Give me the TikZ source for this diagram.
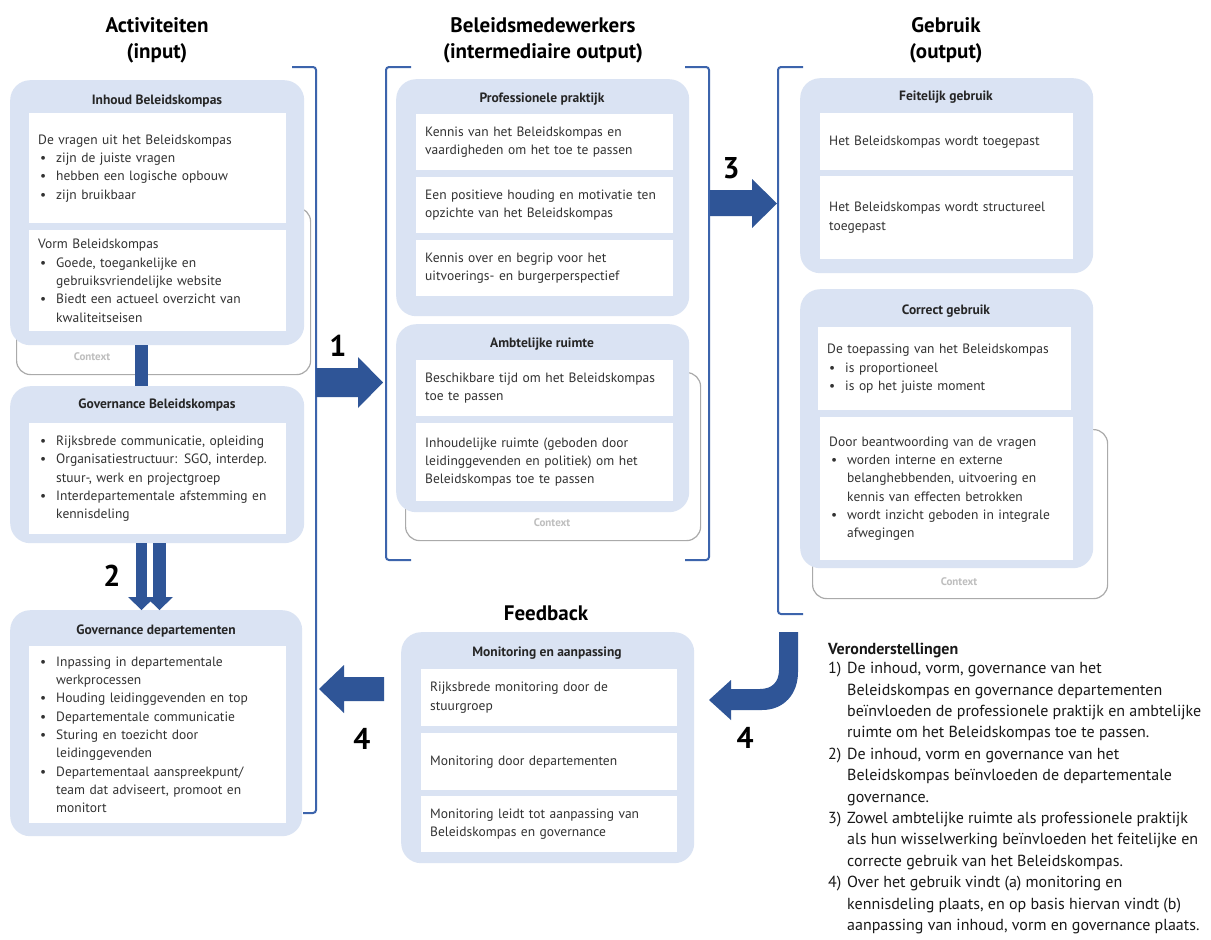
\documentclass[tikz,border=0pt]{standalone}
\usepackage{fontspec}
\setmainfont{PT Sans}
\definecolor{arrowblue}{RGB}{47,85,151}
\definecolor{brblue}{RGB}{60,100,172}
\definecolor{boxblue}{RGB}{218,227,243}
\definecolor{ctxgray}{RGB}{170,170,170}
\definecolor{ctxtext}{RGB}{190,190,190}
\definecolor{txt}{RGB}{50,50,50}
\newcommand{\bitem}{\makebox[18pt][l]{\hspace{2pt}\textbullet}}
\newcommand{\bcont}{\hspace*{18pt}}
\tikzset{
 outerbox/.style={fill=boxblue, rounded corners=20pt, inner sep=0pt, anchor=north west},
 wbox/.style={fill=white, inner xsep=9pt, inner ysep=0pt, anchor=north west, align=left,
   font=\fontsize{13.5}{18.3}\selectfont, text=txt},
 ctxbox/.style={draw=ctxgray, line width=1.2pt, fill=white, rounded corners=14pt, inner sep=0pt, anchor=north west},
 ctxlabel/.style={font=\bfseries\fontsize{11}{13}\selectfont, text=ctxtext},
 boxtitle/.style={font=\bfseries\fontsize{13.5}{16}\selectfont, text=black!85},
 heading/.style={font=\bfseries\fontsize{21}{26}\selectfont, align=center},
 numlabel/.style={font=\bfseries\fontsize{30}{34}\selectfont},
 bracket/.style={draw=brblue, line width=2pt, rounded corners=3pt},
 fatarrow/.style={fill=arrowblue, draw=none},
}
\begin{document}
\begin{tikzpicture}[x=1pt,y=-1pt]
\useasboundingbox[fill=white] (0,0) rectangle (1211,940);

% headings
\node[heading] (h1) at (157,40) {Activiteiten\\(input)};
\node[heading] (h2) at (543,40) {Beleidsmedewerkers\\(intermediaire output)};
\node[heading] (h3) at (946,40) {Gebruik\\(output)};
\node[heading] (h4) at (546,613) {Feedback};

% context boxes
\node[ctxbox, minimum width=294, minimum height=167] (ctx1) at (16,207) {};
\node[ctxlabel] (ctx1t) at (92,357) {Context};
\node[ctxbox, minimum width=295, minimum height=168] (ctx2) at (405,372) {};
\node[ctxlabel] (ctx2t) at (552,523) {Context};
\node[ctxbox, minimum width=295, minimum height=169] (ctx3) at (812,429) {};
\node[ctxlabel] (ctx3t) at (959,582) {Context};

% ---------- left column
\node[outerbox, minimum width=294, minimum height=265] (inhoud) at (10,80) {};
\node[boxtitle] (inhoudT) at (157,101) {Inhoud Beleidskompas};
\node[wbox, text width=239, minimum height=110] (inh1) at (29,113)
 {De vragen uit het Beleidskompas\\ \bitem zijn de juiste vragen\\ \bitem hebben een logische opbouw\\ \bitem zijn bruikbaar};
\node[wbox, text width=239, minimum height=101] (inh2) at (29,230)
 {Vorm Beleidskompas\\ \bitem Goede, toegankelijke en\\ \bcont gebruiksvriendelijke website\\ \bitem Biedt een actueel overzicht van\\ \bcont kwaliteitseisen};

\node[outerbox, minimum width=294, minimum height=157] (govb) at (10,386) {};
\node[boxtitle] (govbT) at (157,405) {Governance Beleidskompas};
\node[wbox, text width=239, minimum height=111] (govb1) at (29,423)
 {\bitem Rijksbrede communicatie, opleiding\\ \bitem Organisatiestructuur: SGO, interdep.\\ \bcont stuur-, werk en projectgroep\\ \bitem Interdepartementale afstemming en\\ \bcont kennisdeling};

\node[outerbox, minimum width=292, minimum height=226] (govd) at (10,610) {};
\node[boxtitle] (govdT) at (156,631) {Governance departementen};
\node[wbox, text width=239, minimum height=177] (govd1) at (29,646)
 {\bitem Inpassing in departementale\\ \bcont werkprocessen\\ \bitem Houding leidinggevenden en top\\ \bitem Departementale communicatie\\ \bitem Sturing en toezicht door\\ \bcont leidinggevenden\\ \bitem Departementaal aanspreekpunt/\\ \bcont team dat adviseert, promoot en\\ \bcont monitort};

% ---------- middle column
\node[outerbox, minimum width=293, minimum height=237] (prof) at (396,79) {};
\node[boxtitle] (profT) at (542,99) {Professionele praktijk};
\node[wbox, text width=239, minimum height=56] (prof1) at (416,114)
 {Kennis van het Beleidskompas en\\vaardigheden om het toe te passen};
\node[wbox, text width=239, minimum height=56] (prof2) at (416,177)
 {Een positieve houding en motivatie ten\\opzichte van het Beleidskompas};
\node[wbox, text width=239, minimum height=56] (prof3) at (416,240)
 {Kennis over en begrip voor het\\uitvoerings- en burgerperspectief};

\node[outerbox, minimum width=293, minimum height=188] (amb) at (396,324) {};
\node[boxtitle] (ambT) at (542,344) {Ambtelijke ruimte};
\node[wbox, text width=239, minimum height=56] (amb1) at (416,360)
 {Beschikbare tijd om het Beleidskompas\\toe te passen};
\node[wbox, text width=239, minimum height=78] (amb2) at (416,423)
 {Inhoudelijke ruimte (geboden door\\leidinggevenden en politiek) om het\\Beleidskompas toe te passen};

% ---------- right column
\node[outerbox, minimum width=293, minimum height=195] (feit) at (800,78) {};
\node[boxtitle] (feitT) at (946,97) {Feitelijk gebruik};
\node[wbox, text width=235, minimum height=57] (feit1) at (820,113)
 {Het Beleidskompas wordt toegepast};
\node[wbox, text width=235, minimum height=83] (feit2) at (820,176)
 {Het Beleidskompas wordt structureel\\toegepast};

\node[outerbox, minimum width=293, minimum height=279] (corr) at (800,289) {};
\node[boxtitle] (corrT) at (946,311) {Correct gebruik};
\node[wbox, text width=235, minimum height=83] (corr1) at (818,327)
 {De toepassing van het Beleidskompas\\ \bitem is proportioneel\\ \bitem is op het juiste moment};
\node[wbox, text width=235, minimum height=143] (corr2) at (820,417)
 {Door beantwoording van de vragen\\ \bitem worden interne en externe\\ \bcont belanghebbenden, uitvoering en\\ \bcont kennis van effecten betrokken\\ \bitem wordt inzicht geboden in integrale\\ \bcont afwegingen};

% ---------- feedback
\node[outerbox, minimum width=293, minimum height=231] (mon) at (401,632) {};
\node[boxtitle] (monT) at (547,653) {Monitoring en aanpassing};
\node[wbox, text width=238, minimum height=57] (mon1) at (421,669)
 {Rijksbrede monitoring door de\\stuurgroep};
\node[wbox, text width=238, minimum height=57] (mon2) at (421,733)
 {Monitoring door departementen};
\node[wbox, text width=238, minimum height=56] (mon3) at (421,796)
 {Monitoring leidt tot aanpassing van\\Beleidskompas en governance};

% ---------- brackets
\draw[bracket] (292,67) -- (316,67) -- (316,813) -- (303,813);
\draw[bracket] (411,67) -- (386,67) -- (386,560) -- (411,560);
\draw[bracket] (685,67) -- (709,67) -- (709,560) -- (685,560);
\draw[bracket] (803,67) -- (778,67) -- (778,614) -- (803,614);

% ---------- arrows
% connector between Inhoud and Governance Beleidskompas
\fill[fatarrow] (135,345) rectangle (148,386);
% arrow 1
\fill[fatarrow] (316,368) -- (358,368) -- (358,357) -- (383,382.5) -- (358,408) -- (358,397) -- (316,397) -- cycle;
\node[numlabel] (n1) at (338,346) {1};
% arrow 2 (double)
\fill[fatarrow] (136,543) rectangle (147,598);
\fill[fatarrow] (153,543) rectangle (166,598);
\fill[fatarrow] (128,597) -- (155,597) -- (141.5,610) -- cycle;
\fill[fatarrow] (146,597) -- (173,597) -- (159.5,610) -- cycle;
\node[numlabel] (n2) at (112,576) {2};
% arrow 3
\fill[fatarrow] (710,190) -- (752,190) -- (752,179) -- (777,203.5) -- (752,228) -- (752,216) -- (710,216) -- cycle;
\node[numlabel] (n3) at (731,168) {3};
% arrow 4 left
\fill[fatarrow] (384,677) -- (344,677) -- (344,665) -- (319,689) -- (344,713) -- (344,701) -- (384,701) -- cycle;
\node[numlabel] (n4a) at (362,739) {4};
% arrow 4 curved
\fill[fatarrow] (779,632) -- (798,632) -- (798,672) .. controls (798,694) and (784,710) .. (762,710)
  -- (731,710) -- (731,720) -- (709,700) -- (731,680) -- (731,689) -- (760,689)
  .. controls (772,689) and (779,682) .. (779,670) -- cycle;
\node[numlabel] (n4b) at (745,738) {4};

% ---------- assumptions
\node[anchor=west, inner sep=0pt, text=black!90,
      font=\bfseries\fontsize{16}{20}\selectfont] (verT) at (828,650) {Veronderstellingen};
\node[anchor=north west, align=left, inner sep=0pt, text=black!90,
      font=\fontsize{16}{21.4}\selectfont] (ver) at (828,662)
 {\makebox[19pt][l]{1)}De inhoud, vorm, governance van het\\
 \hspace*{19pt}Beleidskompas en governance departementen\\
 \hspace*{19pt}beïnvloeden de professionele praktijk en ambtelijke\\
 \hspace*{19pt}ruimte om het Beleidskompas toe te passen.\\
 \makebox[19pt][l]{2)}De inhoud, vorm en governance van het\\
 \hspace*{19pt}Beleidskompas beïnvloeden de departementale\\
 \hspace*{19pt}governance.\\
 \makebox[19pt][l]{3)}Zowel ambtelijke ruimte als professionele praktijk\\
 \hspace*{19pt}als hun wisselwerking beïnvloeden het feitelijke en\\
 \hspace*{19pt}correcte gebruik van het Beleidskompas.\\
 \makebox[19pt][l]{4)}Over het gebruik vindt (a) monitoring en\\
 \hspace*{19pt}kennisdeling plaats, en op basis hiervan vindt (b)\\
 \hspace*{19pt}aanpassing van inhoud, vorm en governance plaats.};
\end{tikzpicture}
\end{document}
